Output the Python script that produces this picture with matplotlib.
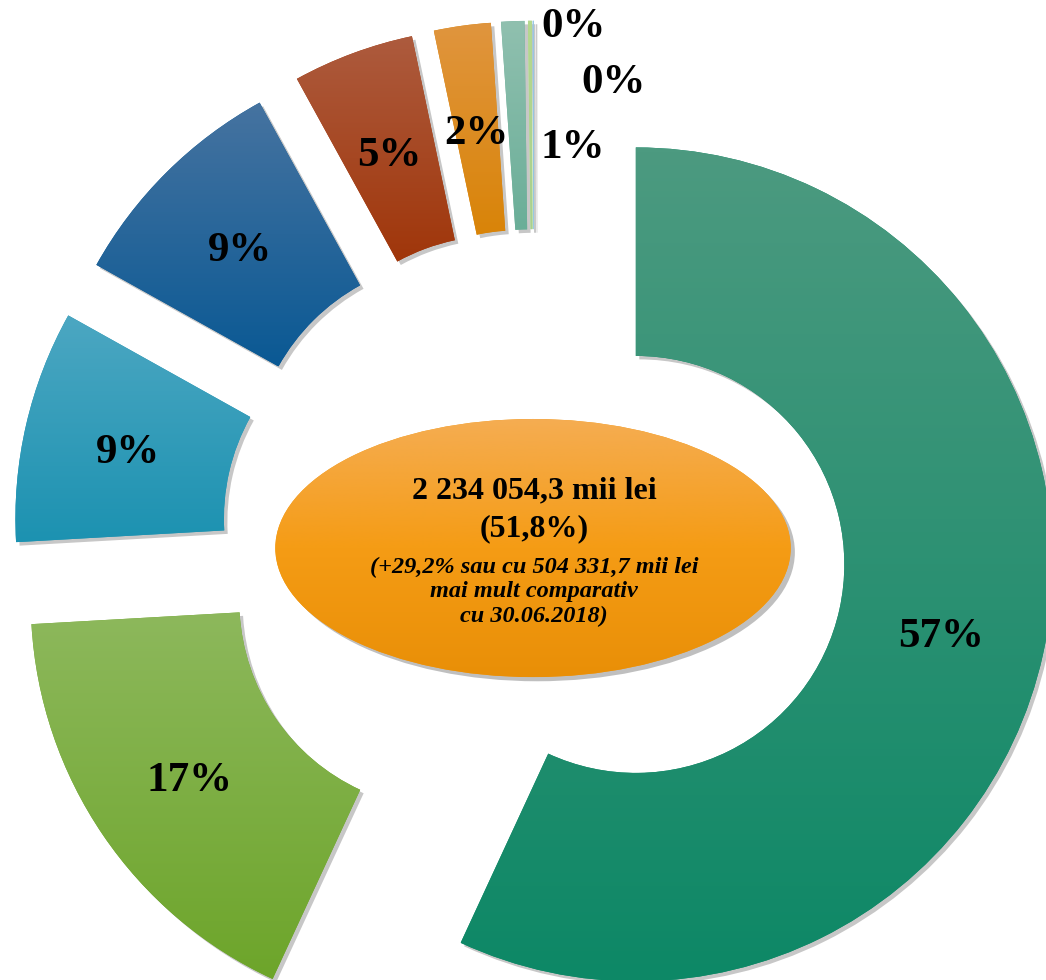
import numpy as np
import matplotlib
matplotlib.use('Agg')
import matplotlib.pyplot as plt
import matplotlib.patheffects as pe
from matplotlib.patches import Ellipse
from matplotlib.colors import LinearSegmentedColormap

# shares of the categories (%)
shares = [56.9, 17.2, 9.0, 8.9, 4.7, 2.2, 0.9, 0.15, 0.05]

# gradient colours of each slice (top -> bottom)
top_colors = ['#4c9a80', '#8db85c', '#4ca7c2', '#4673a0', '#ad5b3e',
              '#e0953e', '#90c0af', '#b6d98f', '#9cc8e4']
bottom_colors = ['#0d8866', '#6da52a', '#1c92b1', '#0a5994', '#a0360a',
                 '#d98408', '#6aae98', '#a9d18e', '#8ec5e0']

# text inside the central ellipse
center_lines = ['2 234 054,3 mii lei', '(51,8%)',
                '(+29,2% sau cu 504 331,7 mii lei', 'mai mult comparativ',
                'cu 30.06.2018)']

SERIF = 'Liberation Serif'

fig = plt.figure(figsize=(10.46, 9.8), dpi=100)
ax = fig.add_axes([0, 0, 1, 1])

shadow = [pe.SimplePatchShadow(offset=(2.5, -2.5), shadow_rgbFace='k', alpha=0.22),
          pe.Normal()]

wedges, texts, autotexts = ax.pie(
    shares, radius=1.0, startangle=90, counterclock=False,
    explode=[0.25] * len(shares), colors=bottom_colors,
    autopct='%.0f%%', pctdistance=0.75,
    wedgeprops=dict(width=0.5, linewidth=0, path_effects=shadow),
    textprops=dict(family=SERIF, fontweight='bold', fontsize=31, color='black'))

# vertical gradient inside every slice (like the office chart fill)
grad = np.linspace(0, 1, 256).reshape(-1, 1)
for w, c_top, c_bot in zip(wedges, top_colors, bottom_colors):
    ext = w.get_path().get_extents()
    cmap = LinearSegmentedColormap.from_list('g', [c_top, c_bot])
    im = ax.imshow(grad, extent=[ext.x0, ext.x1, ext.y0, ext.y1], origin='upper',
                   cmap=cmap, aspect='auto', zorder=w.get_zorder() + 0.1,
                   interpolation='bilinear')
    im.set_clip_path(w)

for t in autotexts:
    t.set_zorder(5)
    x, y = t.get_position()
    t.set_position((x, y - 0.012))

# the labels of the thinnest slices sit outside the ring
label_shift = {6: (0.133, -0.054), 7: (0.102, 0.234), 8: (0.192, 0.101)}
for i, (dx, dy) in label_shift.items():
    x, y = autotexts[i].get_position()
    autotexts[i].set_position((x + dx, y + dy + 0.012))

# central ellipse with gradient
ell = Ellipse((-0.0024, -0.0145), 1.236, 0.619, facecolor='#f49c19', linewidth=0,
              zorder=3, path_effects=[pe.SimplePatchShadow(offset=(3, -3), shadow_rgbFace='k',
                                                           alpha=0.25), pe.Normal()])
ax.add_patch(ell)
ecmap = LinearSegmentedColormap.from_list('e', ['#f5ad52', '#f59c15', '#e98f07'])
eb = ell.get_path().transformed(ell.get_patch_transform()).get_extents()
eim = ax.imshow(grad, extent=[eb.x0, eb.x1, eb.y0, eb.y1], origin='upper', cmap=ecmap,
                aspect='auto', zorder=3.1, interpolation='bilinear')
eim.set_clip_path(ell)

line_y = [0.1036, 0.0145, -0.0747, -0.1325, -0.1928]
for k, (txt, y) in enumerate(zip(center_lines, line_y)):
    if k < 2:
        ax.text(0.0, y, txt, ha='center', va='baseline', family=SERIF,
                fontweight='bold', fontsize=23, zorder=6)
    else:
        ax.text(0.0, y, txt, ha='center', va='baseline', family=SERIF,
                fontweight='bold', fontstyle='italic', fontsize=17.5, zorder=6)

ax.set_xlim(-1.2806, 1.2278)
ax.set_ylim(-1.0504, 1.2998)
ax.set_aspect('auto')
ax.axis('off')

fig.savefig('out.png', dpi=100, facecolor='white')
